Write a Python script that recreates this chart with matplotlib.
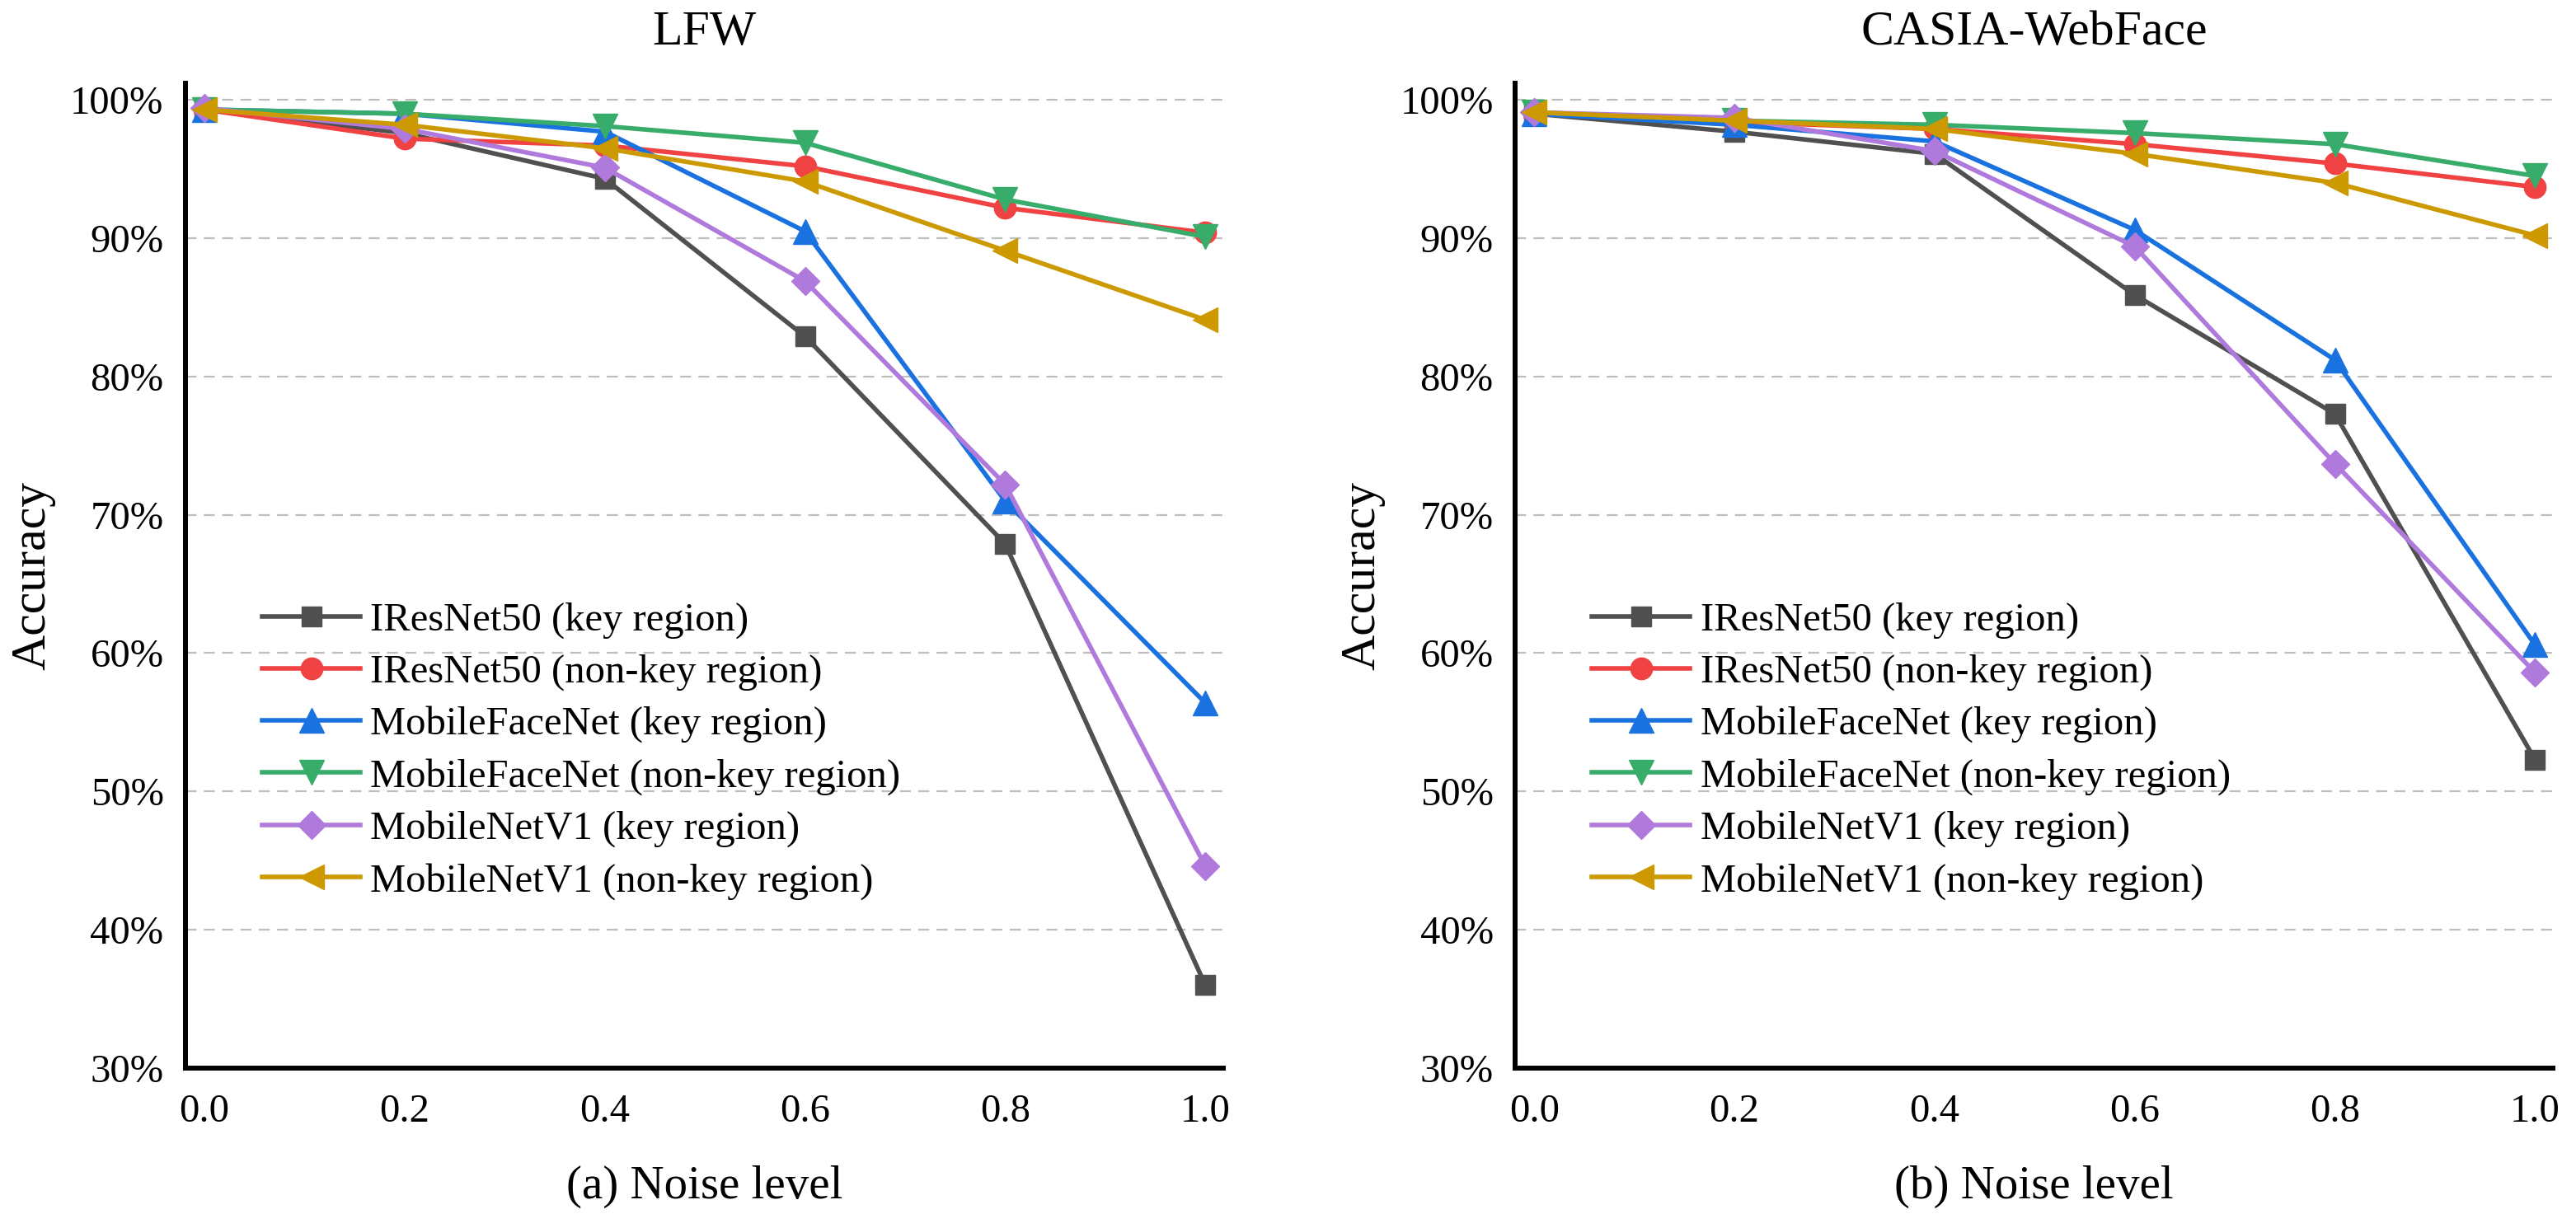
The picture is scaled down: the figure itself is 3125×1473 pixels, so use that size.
import numpy as np
import matplotlib
matplotlib.use("Agg")
from matplotlib import pyplot as plt

plt.rcParams['font.family'] = ['Liberation Serif', 'DejaVu Serif']

# datos
noise = [0.0, 0.2, 0.4, 0.6, 0.8, 1.0]
xticks = [0.0, 0.2, 0.4, 0.6, 0.8, 1.0]
xtick_labels = ['0.0', '0.2', '0.4', '0.6', '0.8', '1.0']
yticks = [30, 40, 50, 60, 70, 80, 90, 100]
ytick_labels = ['30%', '40%', '50%', '60%', '70%', '80%', '90%', '100%']

names = ['IResNet50 (key region)', 'IResNet50 (non-key region)',
         'MobileFaceNet (key region)', 'MobileFaceNet (non-key region)',
         'MobileNetV1 (key region)', 'MobileNetV1 (non-key region)']

# LFW
lfw_iresnet_key = [99.3, 97.6, 94.3, 82.9, 67.9, 36.0]
lfw_iresnet_nonkey = [99.3, 97.2, 96.7, 95.2, 92.2, 90.4]
lfw_mfn_key = [99.3, 99.0, 97.7, 90.5, 71.0, 56.4]
lfw_mfn_nonkey = [99.3, 99.0, 98.1, 96.9, 92.8, 90.1]
lfw_mnv1_key = [99.4, 97.9, 95.1, 86.9, 72.2, 44.6]
lfw_mnv1_nonkey = [99.3, 98.2, 96.5, 94.1, 89.1, 84.1]

# CASIA-WebFace
casia_iresnet_key = [99.0, 97.7, 96.1, 85.9, 77.3, 52.3]
casia_iresnet_nonkey = [99.0, 98.4, 97.9, 96.8, 95.4, 93.7]
casia_mfn_key = [99.0, 98.2, 97.0, 90.6, 81.2, 60.6]
casia_mfn_nonkey = [99.1, 98.5, 98.2, 97.6, 96.8, 94.5]
casia_mnv1_key = [99.1, 98.7, 96.3, 89.4, 73.7, 58.6]
casia_mnv1_nonkey = [99.1, 98.5, 97.9, 96.1, 94.0, 90.2]

lfw = [lfw_iresnet_key, lfw_iresnet_nonkey, lfw_mfn_key,
       lfw_mfn_nonkey, lfw_mnv1_key, lfw_mnv1_nonkey]
casia = [casia_iresnet_key, casia_iresnet_nonkey, casia_mfn_key,
         casia_mfn_nonkey, casia_mnv1_key, casia_mnv1_nonkey]

colors = ['#505050', '#F04242', '#1A72E0', '#38AC6A', '#B07ADC', '#CC9900']
markers = ['s', 'o', '^', 'v', 'D', '<']
msizes = [17, 19, 22, 22, 17.5, 22]

fig = plt.figure(figsize=(31.25, 14.73), dpi=100)
ax1 = fig.add_axes([0.072, 0.1202, 0.4029, 0.8112])
ax2 = fig.add_axes([0.5882, 0.1202, 0.4029, 0.8112])


def dibujar(ax, datos, titulo, etiqueta):
    for i in range(len(datos)):
        ax.plot(noise, datos[i], color=colors[i], marker=markers[i],
                markersize=msizes[i], linewidth=4, label=names[i])
    ax.set_xlim(-0.019, 1.018)
    ax.set_ylim(30, 101.2)
    ax.set_xticks(xticks)
    ax.set_xticklabels(xtick_labels)
    ax.set_yticks(yticks)
    ax.set_yticklabels(ytick_labels)
    ax.tick_params(axis='both', length=0, labelsize=35)
    ax.tick_params(axis='x', pad=22)
    ax.tick_params(axis='y', pad=19)
    # rejilla horizontal discontinua
    for v in yticks[1:]:
        ax.axhline(v, color='#BDBDBD', linewidth=1.6, linestyle=(0, (6, 4)), zorder=0)
    for s in ['top', 'right']:
        ax.spines[s].set_visible(False)
    for s in ['left', 'bottom']:
        ax.spines[s].set_linewidth(4.3)
        ax.spines[s].set_color('black')
    ax.set_title(titulo, fontsize=43, pad=34)
    ax.set_xlabel(etiqueta, fontsize=41, labelpad=31)
    ax.set_ylabel('Accuracy', fontsize=43, labelpad=13)
    ax.legend(loc='upper left', bbox_to_anchor=(0.074, 0.473), frameon=False,
              fontsize=35, borderpad=0, borderaxespad=0, handlelength=2.45,
              handletextpad=0.25, labelspacing=0.38)


dibujar(ax1, lfw, 'LFW', '(a) Noise level')
dibujar(ax2, casia, 'CASIA-WebFace', '(b) Noise level')

plt.savefig('out.png', dpi=100)
